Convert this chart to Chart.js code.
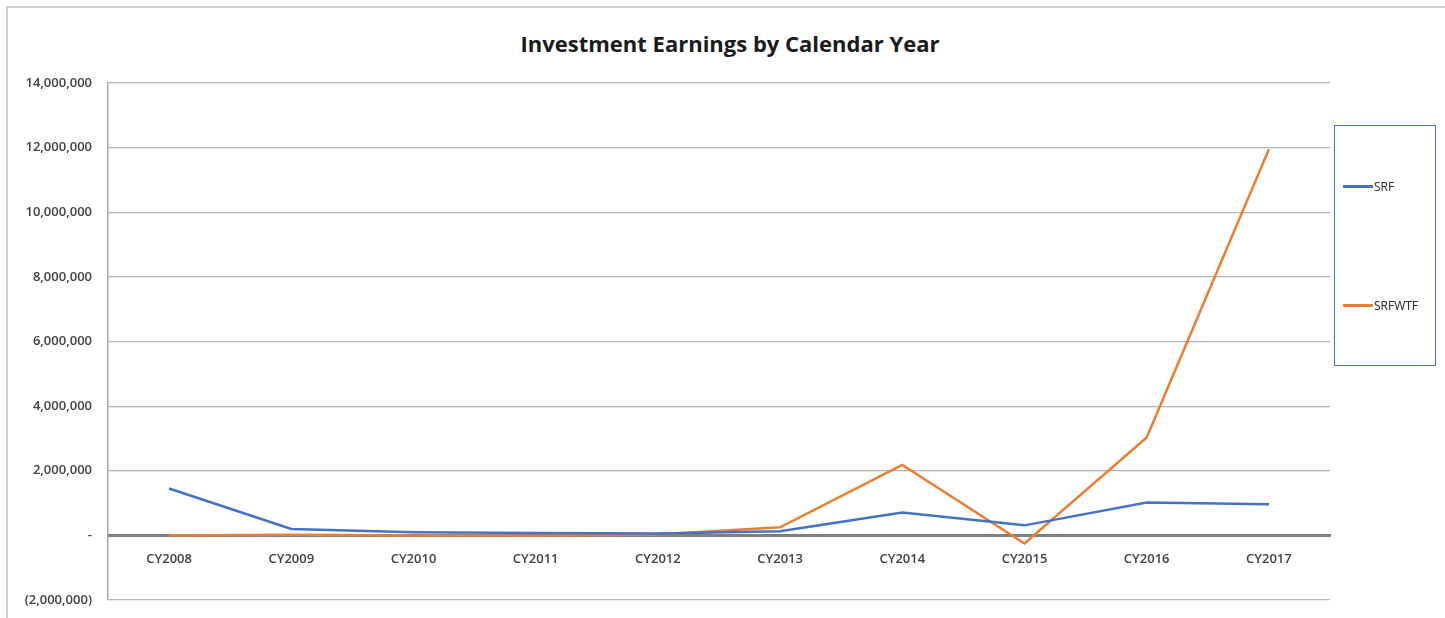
<!DOCTYPE html>
<html>
<head>
<meta charset="utf-8">
<script src="https://cdn.jsdelivr.net/npm/chart.js@4.4.1/dist/chart.umd.min.js"></script>
<style>
  html, body { margin: 0; padding: 0; background: #fff; }
  #wrap { position: relative; width: 1445px; height: 618px; overflow: hidden; }
  #frame { position: absolute; left: 6px; top: 6px; width: 1460px; height: 640px; border: 2px solid #cfcfcf; box-sizing: border-box; }
  #title { position: absolute; left: 0; top: 28px; width: 1460px; text-align: center;
    font: bold 22px "Open Sans", "Liberation Sans", sans-serif; color: #1a1a1a; }
  #chart { position: absolute; left: 0; top: 0; }
  #legend { position: absolute; left: 1334px; top: 125px; width: 102px; height: 241px;
    border: 1.5px solid #4a72c4; box-sizing: border-box; font: 12px "Open Sans", "Liberation Sans", sans-serif; color: #262626; }
  .item { position: absolute; left: 8px; display: flex; align-items: center; }
  .item i { display: inline-block; width: 30px; height: 2.5px; margin-right: 1px; }
</style>
</head>
<body>
<div id="wrap">
  <div id="frame"></div>
  <div id="title">Investment Earnings by Calendar Year</div>
  <canvas id="chart" width="1445" height="618"></canvas>
  <div id="legend">
    <div class="item" style="top:52px"><i style="background:#4472c4"></i>SRF</div>
    <div class="item" style="top:171px"><i style="background:#ed7d31"></i>SRFWTF</div>
  </div>
</div>
<script>
const years = ['CY2008', 'CY2009', 'CY2010', 'CY2011', 'CY2012', 'CY2013', 'CY2014', 'CY2015', 'CY2016', 'CY2017'];
const srf = [1450000, 200000, 100000, 70000, 60000, 130000, 710000, 310000, 1020000, 960000];
const srfwtf = [0, 20000, 0, -10000, 30000, 250000, 2180000, -250000, 3030000, 11950000];
const yTicks = { min: -2000000, max: 14000000, step: 2000000 };

const nf = new Intl.NumberFormat('en');
function fmt(v) {
  if (v === 0) return '-';
  if (v < 0) return '(' + nf.format(-v) + ')';
  return nf.format(v);
}

const tickFont = { family: '"Open Sans", "Liberation Sans", sans-serif', size: 13, weight: '600' };

new Chart(document.getElementById('chart'), {
  type: 'line',
  data: {
    labels: years,
    datasets: [
      { label: 'SRF', data: srf, borderColor: '#4472c4', borderWidth: 2.5, pointRadius: 0, tension: 0 },
      { label: 'SRFWTF', data: srfwtf, borderColor: '#ed7d31', borderWidth: 2.5, pointRadius: 0, tension: 0 },
    ],
  },
  options: {
    responsive: false,
    animation: false,
    layout: { padding: { top: 83, right: 115, bottom: 18, left: 0 } },
    plugins: { legend: { display: false }, title: { display: false }, tooltip: { enabled: false } },
    scales: {
      x: {
        position: { y: 0 },
        offset: true,
        grid: { display: false, drawTicks: false },
        border: { display: true, color: '#7f7f7f', width: 3 },
        ticks: { color: '#404040', font: tickFont, padding: 16, maxRotation: 0 },
      },
      y: {
        min: yTicks.min,
        max: yTicks.max,
        afterFit: (s) => { s.width = 108; s.paddingTop = 0; s.paddingBottom = 0; },
        grid: { color: '#b4b4b4', lineWidth: 1.2, drawTicks: false },
        border: { display: true, color: '#a6a6a6', width: 1.5 },
        ticks: { stepSize: yTicks.step, color: '#404040', font: tickFont, padding: 16, callback: (v) => fmt(v) },
      },
    },
  },
});
</script>
</body>
</html>
